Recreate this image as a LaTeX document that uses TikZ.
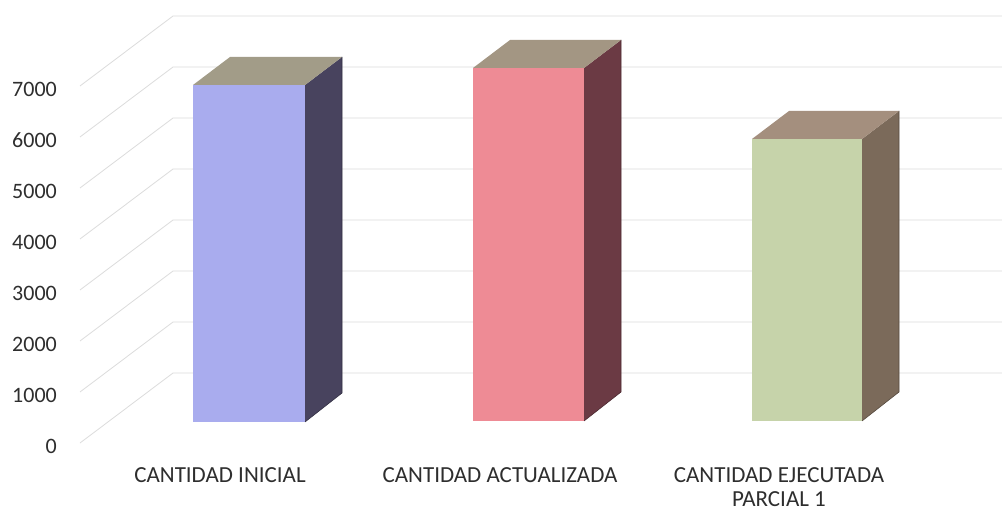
\documentclass[tikz,border=0pt]{standalone}
\usepackage{fontspec}
\setmainfont{Carlito}

\definecolor{gridgray}{HTML}{DCDCDC}
\definecolor{labelgray}{HTML}{2E2E2E}
\definecolor{iniFront}{HTML}{A9ACEE}
\definecolor{iniSide}{HTML}{48435E}
\definecolor{iniTop}{HTML}{A29C88}
\definecolor{actFront}{HTML}{EE8B95}
\definecolor{actSide}{HTML}{6B3A44}
\definecolor{actTop}{HTML}{A39683}
\definecolor{ejeFront}{HTML}{C6D3AA}
\definecolor{ejeSide}{HTML}{7B6A5A}
\definecolor{ejeTop}{HTML}{A48F7E}

% one 3D bar: left x, right x, top y, bottom y, colour prefix
\newcommand{\barra}[5]{%
  \fill[#5Front] (#1,#3) rectangle (#2,#4);
  \fill[#5Side] (#2,#3) -- ++(37,-28) -- (#2+37,#4-29) -- (#2,#4) -- cycle;
  \fill[#5Top] (#1,#3) -- ++(37,-28) -- (#2+37,#3-28) -- (#2,#3) -- cycle;
  \draw[#5Side!70!black,line width=0.6pt] (#2+37,#3-28) -- (#2+37,#4-29) -- (#2,#4);
}

\begin{document}
\begin{tikzpicture}[x=1pt,y=-1pt,
  grid line/.style={draw=gridgray,line width=0.8pt},
  axis label/.style={anchor=east,inner sep=0pt,font=\fontsize{22}{26}\selectfont,text=labelgray},
  cat label/.style={anchor=north,align=center,inner sep=0pt,font=\fontsize{23}{24}\selectfont,text=labelgray}]
  \useasboundingbox[fill=white] (0,0) rectangle (1002,513);

  % walls
  \foreach \k in {0,...,7}{
    \draw[grid line] (80,443-51*\k) -- (173,373-51*\k) -- (1002,373-51*\k);
  }

  % axis
  \foreach \v [count=\k from 0] in {0,1000,2000,3000,4000,5000,6000,7000}{
    \node[axis label] (y\k) at (57,446-51*\k) {\v};
  }

  % bars
  \barra{193}{305}{85}{422}{ini}
  \barra{473}{584}{68}{421}{act}
  \barra{752}{862}{139}{421}{eje}

  % categories
  \node[cat label] (inicial) at (220,467) {CANTIDAD INICIAL};
  \node[cat label] (actualizada) at (500,467) {CANTIDAD ACTUALIZADA};
  \node[cat label] (ejecutada) at (779,467) {CANTIDAD EJECUTADA\\PARCIAL 1};
\end{tikzpicture}
\end{document}
